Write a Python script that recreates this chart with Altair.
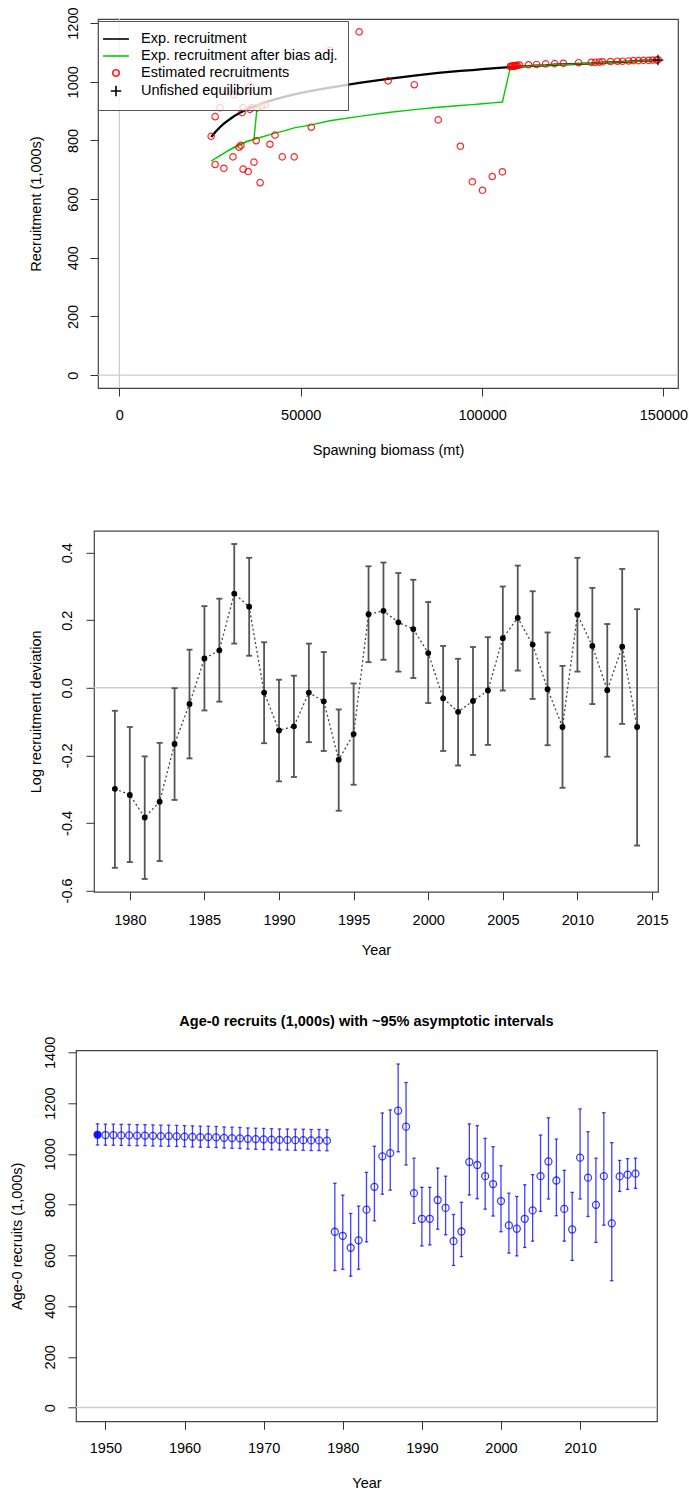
import altair as alt
import pandas as pd

FONT = "Liberation Sans"

# ---------------- data ----------------
years = list(range(1949, 2018))
sb = [148500, 148100, 147000, 145900, 144500, 143100, 141700, 140400, 138700, 137300,
      135400, 133200, 132300, 131200, 130100, 126600, 122400, 120000, 117500, 115000,
      112800, 110300, 109700, 109400, 109200, 108900, 108600, 108300, 108000, 107800,
      105600, 102800, 100100, 97300, 94000, 87900, 81300, 74100, 66100, 58000,
      52900, 48200, 44900, 42900, 41500, 38800, 35500, 29700, 31500, 27700,
      26400, 25300, 26400, 28800, 31300, 33000, 34100, 35000, 33800, 33500,
      34100, 36000, 36000, 37700, 36500, 37100, 38000, 39300, 40200]
rec = [1075, 1074, 1074, 1073, 1073, 1072, 1072, 1071, 1070, 1070,
       1069, 1068, 1067, 1066, 1066, 1065, 1063, 1062, 1061, 1059,
       1058, 1057, 1056, 1055, 1055, 1054, 1054, 1053, 1053, 1052,
       693, 677, 630, 659, 780, 870, 990, 1003, 1170, 1107,
       845, 744, 744, 818, 787, 656, 694, 968, 956, 912,
       881, 814, 718, 705, 744, 777, 912, 970, 895, 783,
       702, 985, 906, 799, 912, 726, 911, 918, 922]
rec_lo = [1035, 1034, 1034, 1033, 1033, 1032, 1032, 1031, 1030, 1030,
          1029, 1028, 1027, 1026, 1026, 1025, 1023, 1022, 1021, 1019,
          1018, 1017, 1016, 1015, 1015, 1014, 1014, 1013, 1013, 1012,
          540, 545, 518, 545, 653, 736, 841, 857, 1008, 956,
          726, 637, 641, 703, 681, 560, 595, 838, 823, 782,
          755, 693, 609, 598, 631, 656, 773, 822, 756, 656,
          580, 822, 753, 651, 719, 500, 852, 860, 864]
rec_hi = [1118, 1117, 1117, 1116, 1116, 1115, 1115, 1114, 1113, 1113,
          1112, 1111, 1110, 1109, 1109, 1108, 1106, 1105, 1104, 1102,
          1101, 1100, 1099, 1098, 1098, 1097, 1097, 1096, 1096, 1095,
          884, 837, 765, 794, 927, 1030, 1161, 1173, 1354, 1281,
          983, 868, 868, 944, 912, 761, 809, 1118, 1111, 1061,
          1028, 953, 845, 832, 878, 918, 1074, 1142, 1058, 935,
          848, 1177, 1087, 983, 1162, 1044, 974, 981, 983]
exp_rec = [1074, 1074, 1073, 1072, 1072, 1071, 1070, 1069, 1068, 1067,
           1066, 1065, 1064, 1064, 1063, 1061, 1059, 1058, 1056, 1055,
           1053, 1052, 1051, 1051, 1051, 1050, 1050, 1050, 1050, 1050,
           1048, 1046, 1043, 1040, 1037, 1030, 1021, 1010, 996, 980,
           969, 957, 947, 940, 935, 924, 908, 866, 882, 845,
           828, 812, 828, 857, 880, 893, 900, 905, 898, 896,
           900, 911, 911, 919, 913, 916, 920, 926, 930]
exp_rec_adj = [1074, 1074, 1073, 1072, 1072, 1071, 1070, 1069, 1068, 1067,
               1066, 1065, 1064, 1064, 1063, 1061, 1059, 1058, 1056, 1055,
               1053, 1052, 1051, 1051, 1051, 1050, 1050, 1050, 1050, 1050,
               931, 928, 925, 922, 919, 913, 905, 895, 882, 867,
               853, 843, 831, 825, 820, 810, 798, 764, 776, 748,
               738, 730, 738, 756, 775, 786, 792, 796, 790, 788,
               792, 799, 799, 806, 801, 803, 920, 926, 930]
virgin_sb = [148500]
virgin_rec = [1074]
legend_names = ["Exp. recruitment", "Exp. recruitment after bias adj.",
                "Estimated recruitments", "Unfished equilibrium"]

dev_years = list(range(1979, 2015))
dev = [-0.299, -0.317, -0.384, -0.337, -0.166, -0.048, 0.087, 0.111, 0.279, 0.240,
       -0.014, -0.126, -0.114, -0.014, -0.040, -0.213, -0.137, 0.218, 0.228, 0.194,
       0.174, 0.103, -0.031, -0.071, -0.039, -0.008, 0.147, 0.207, 0.128, -0.004,
       -0.116, 0.217, 0.124, -0.007, 0.122, -0.116]
dev_hi = [-0.068, -0.116, -0.203, -0.163, -0.001, 0.113, 0.242, 0.264, 0.426, 0.385,
          0.135, 0.024, 0.036, 0.131, 0.106, -0.064, 0.013, 0.360, 0.371, 0.340,
          0.320, 0.254, 0.124, 0.086, 0.121, 0.150, 0.300, 0.362, 0.286, 0.164,
          0.065, 0.385, 0.296, 0.189, 0.352, 0.233]
dev_lo = [-0.533, -0.516, -0.566, -0.513, -0.332, -0.209, -0.067, -0.041, 0.131, 0.095,
          -0.164, -0.277, -0.264, -0.161, -0.187, -0.364, -0.287, 0.076, 0.083, 0.048,
          0.029, -0.045, -0.187, -0.230, -0.199, -0.169, -0.008, 0.051, -0.033, -0.170,
          -0.296, 0.048, -0.048, -0.204, -0.107, -0.467]

x1_ticks = [0, 50000, 100000, 150000]
y1_ticks = [0, 200, 400, 600, 800, 1000, 1200]
x2_ticks = [1980, 1985, 1990, 1995, 2000, 2005, 2010, 2015]
y2_ticks = [-0.6, -0.4, -0.2, 0.0, 0.2, 0.4]
x3_ticks = [1950, 1960, 1970, 1980, 1990, 2000, 2010]
y3_ticks = [0, 200, 400, 600, 800, 1000, 1200, 1400]

# ---------------- helpers ----------------
FS = 14.5


def x_axis(title, values, lp, tp, fmt="d", expr=None):
    kw = dict(title=title, values=values, grid=False, domain=False, tickSize=8,
              tickColor="#333333", tickWidth=1, labelFont=FONT, labelFontSize=FS,
              labelColor="black", labelPadding=lp, labelFlush=False, labelOverlap=False,
              labelAngle=0, titleFont=FONT, titleFontSize=FS, titleFontWeight="normal",
              titleColor="black", titlePadding=tp)
    if expr:
        kw["labelExpr"] = expr
    else:
        kw["format"] = fmt
    return alt.Axis(**kw)


def y_axis(title, values, lp, tp, fmt="d", expr=None):
    kw = dict(title=title, values=values, grid=False, domain=False, tickSize=8,
              tickColor="#333333", tickWidth=1, labelFont=FONT, labelFontSize=FS,
              labelColor="black", labelPadding=lp, labelFlush=False, labelOverlap=False,
              labelAngle=270, labelAlign="center", labelBaseline="middle",
              titleFont=FONT, titleFontSize=FS, titleFontWeight="normal",
              titleColor="black", titlePadding=tp)
    if expr:
        kw["labelExpr"] = expr
    else:
        kw["format"] = fmt
    return alt.Axis(**kw)


zero_df = pd.DataFrame({"z": [0]})


def spacer(w):
    return alt.Chart(zero_df).mark_point(opacity=0).encode(
        x=alt.X("z:Q", axis=None), y=alt.Y("z:Q", axis=None)
    ).properties(width=w, height=10, view=alt.ViewBackground(stroke="transparent"))


# ---------------- panel 1 ----------------
xs1 = alt.Scale(domain=[-5900, 154000], nice=False, zero=False)
ys1 = alt.Scale(domain=[-44, 1214], nice=False, zero=False)
ax1x = x_axis("Spawning biomass (mt)", x1_ticks, 12.5, 21.5)
ax1y = y_axis("Recruitment (1,000s)", y1_ticks, 17, 22)

df1 = pd.DataFrame({"year": years, "sb": sb, "exp_rec": exp_rec, "exp_rec_adj": exp_rec_adj})
pts1 = pd.DataFrame({
    "sb": sb + virgin_sb,
    "rec": rec + virgin_rec,
    "series": ["Estimated recruitments"] * len(sb) + ["Unfished equilibrium"] * len(virgin_sb),
})

ref_h1 = alt.Chart(zero_df).mark_rule(color="#cccccc", strokeWidth=1.3).encode(
    y=alt.Y("z:Q", scale=ys1, axis=ax1y))
ref_v1 = alt.Chart(zero_df).mark_rule(color="#cccccc", strokeWidth=1.3).encode(
    x=alt.X("z:Q", scale=xs1, axis=ax1x))

black = alt.Chart(df1).mark_line(color="black", strokeWidth=2.3).encode(
    x=alt.X("sb:Q", scale=xs1, axis=ax1x),
    y=alt.Y("exp_rec:Q", scale=ys1, axis=ax1y),
)
green = alt.Chart(df1).mark_line(color="#00CD00", strokeWidth=1.4).encode(
    x=alt.X("sb:Q", scale=xs1, axis=ax1x),
    y=alt.Y("exp_rec_adj:Q", scale=ys1, axis=ax1y),
    order=alt.Order("year:Q"),
)

leg = alt.Legend(title=None, orient="none", legendX=97, legendY=2,
                 fillColor="rgba(255,255,255,0.78)", strokeColor="#555555",
                 padding=10, cornerRadius=0, labelFont=FONT, labelFontSize=FS,
                 labelColor="black", labelOffset=17, rowPadding=2, labelLimit=0,
                 symbolSize=196, symbolStrokeWidth=1.6)
line_path = "M-1.85,0H1.85"
circ_path = "M0.46,0A0.46,0.46,0,1,1,-0.46,0A0.46,0.46,0,1,1,0.46,0Z"
plus_path = "M-0.75,0H0.75M0,-0.75V0.75"

points1 = alt.Chart(pts1).mark_point(filled=False, size=196, strokeWidth=1.2, opacity=1).encode(
    x=alt.X("sb:Q", scale=xs1, axis=ax1x),
    y=alt.Y("rec:Q", scale=ys1, axis=ax1y),
    color=alt.Color("series:N", legend=leg,
                    scale=alt.Scale(domain=legend_names,
                                    range=["#000000", "#00CD00", "rgba(255,0,0,0.85)", "#000000"])),
    shape=alt.Shape("series:N", legend=leg,
                    scale=alt.Scale(domain=legend_names,
                                    range=[line_path, line_path, circ_path, plus_path])),
)

panel1 = alt.layer(ref_h1, ref_v1, black, green, points1).properties(width=580, height=369)

# ---------------- panel 2 ----------------
xs2 = alt.Scale(domain=[1977.6, 2015.4], nice=False, zero=False)
ys2 = alt.Scale(domain=[-0.604, 0.465], nice=False, zero=False)
minus_expr = "replace(format(datum.value, '.1f'), '\u2212', '-')"
ax2x = x_axis("Year", x2_ticks, 13.5, 17)
ax2y = y_axis("Log recruitment deviation", y2_ticks, 19, 15.5, expr=minus_expr)
df2 = pd.DataFrame({"year": dev_years, "dev": dev, "lo": dev_lo, "hi": dev_hi})
cap = "M-1,0H1"

ref2 = alt.Chart(zero_df).mark_rule(color="#cccccc", strokeWidth=1.5).encode(
    y=alt.Y("z:Q", scale=ys2, axis=ax2y))
bars2 = alt.Chart(df2).mark_rule(color="#555555", strokeWidth=1.8).encode(
    x=alt.X("year:Q", scale=xs2, axis=ax2x),
    y=alt.Y("lo:Q", scale=ys2, axis=ax2y), y2="hi:Q")
caplo2 = alt.Chart(df2).mark_point(shape=cap, size=36, filled=False, strokeWidth=1.8,
                                   color="#555555", opacity=1).encode(
    x=alt.X("year:Q", scale=xs2, axis=ax2x), y=alt.Y("lo:Q", scale=ys2, axis=ax2y))
caphi2 = alt.Chart(df2).mark_point(shape=cap, size=36, filled=False, strokeWidth=1.8,
                                   color="#555555", opacity=1).encode(
    x=alt.X("year:Q", scale=xs2, axis=ax2x), y=alt.Y("hi:Q", scale=ys2, axis=ax2y))
line2 = alt.Chart(df2).mark_line(color="#444444", strokeWidth=1.3, strokeDash=[2, 2.5]).encode(
    x=alt.X("year:Q", scale=xs2, axis=ax2x), y=alt.Y("dev:Q", scale=ys2, axis=ax2y))
pts2 = alt.Chart(df2).mark_circle(color="black", size=34, opacity=1).encode(
    x=alt.X("year:Q", scale=xs2, axis=ax2x),
    y=alt.Y("dev:Q", scale=ys2, axis=ax2y),
)
panel2 = alt.layer(ref2, bars2, caplo2, caphi2, line2, pts2).properties(width=564, height=361)

# ---------------- panel 3 ----------------
xs3 = alt.Scale(domain=[1946.28, 2019.72], nice=False, zero=False)
ys3 = alt.Scale(domain=[-54, 1408], nice=False, zero=False)
ax3x = x_axis("Year", x3_ticks, 11.7, 21.5)
ax3y = y_axis("Age-0 recruits (1,000s)", y3_ticks, 18, 17.5)
df3 = pd.DataFrame({"year": years, "rec": rec, "lo": rec_lo, "hi": rec_hi})
BLUE = "#0000ff"

ref3 = alt.Chart(zero_df).mark_rule(color="#cccccc", strokeWidth=1.5).encode(
    y=alt.Y("z:Q", scale=ys3, axis=ax3y))
bars3 = alt.Chart(df3).mark_rule(color=BLUE, strokeWidth=1.3, opacity=0.75).encode(
    x=alt.X("year:Q", scale=xs3, axis=ax3x),
    y=alt.Y("lo:Q", scale=ys3, axis=ax3y), y2="hi:Q")
caplo3 = alt.Chart(df3).mark_point(shape=cap, size=12, filled=False, strokeWidth=1.3,
                                   color=BLUE, opacity=0.75).encode(
    x=alt.X("year:Q", scale=xs3, axis=ax3x), y=alt.Y("lo:Q", scale=ys3, axis=ax3y))
caphi3 = alt.Chart(df3).mark_point(shape=cap, size=12, filled=False, strokeWidth=1.3,
                                   color=BLUE, opacity=0.75).encode(
    x=alt.X("year:Q", scale=xs3, axis=ax3x), y=alt.Y("hi:Q", scale=ys3, axis=ax3y))
pts3 = alt.Chart(df3).mark_point(shape="circle", size=49, filled=False, strokeWidth=1.3,
                                 color=BLUE, opacity=0.75).encode(
    x=alt.X("year:Q", scale=xs3, axis=ax3x),
    y=alt.Y("rec:Q", scale=ys3, axis=ax3y),
)
first3 = alt.Chart(df3).transform_filter(alt.datum.year == years[0]).mark_circle(
    size=49, color=BLUE, opacity=0.9).encode(
    x=alt.X("year:Q", scale=xs3, axis=ax3x), y=alt.Y("rec:Q", scale=ys3, axis=ax3y))

panel3 = alt.layer(ref3, bars3, caplo3, caphi3, pts3, first3).properties(
    width=581, height=371,
    title=alt.TitleParams("Age-0 recruits (1,000s) with ~95% asymptotic intervals",
                          font=FONT, fontSize=FS, fontWeight="bold", color="black",
                          anchor="middle", frame="group", offset=7),
)

row1 = alt.hconcat(spacer(24.5), panel1, spacing=0)
row2 = alt.hconcat(spacer(24.8), panel2, spacing=0)
row3 = alt.hconcat(spacer(5.8), panel3, spacing=0)

chart = alt.vconcat(
    alt.vconcat(row1, row2, spacing=71.8),
    row3, spacing=54.3,
).properties(
    padding={"left": 0, "top": 6, "right": 0, "bottom": 0},
    background="white",
).configure(font=FONT).configure_view(stroke="#444444", strokeWidth=1.2)

chart.save("out.html", embed_options={"renderer": "svg", "actions": False})
